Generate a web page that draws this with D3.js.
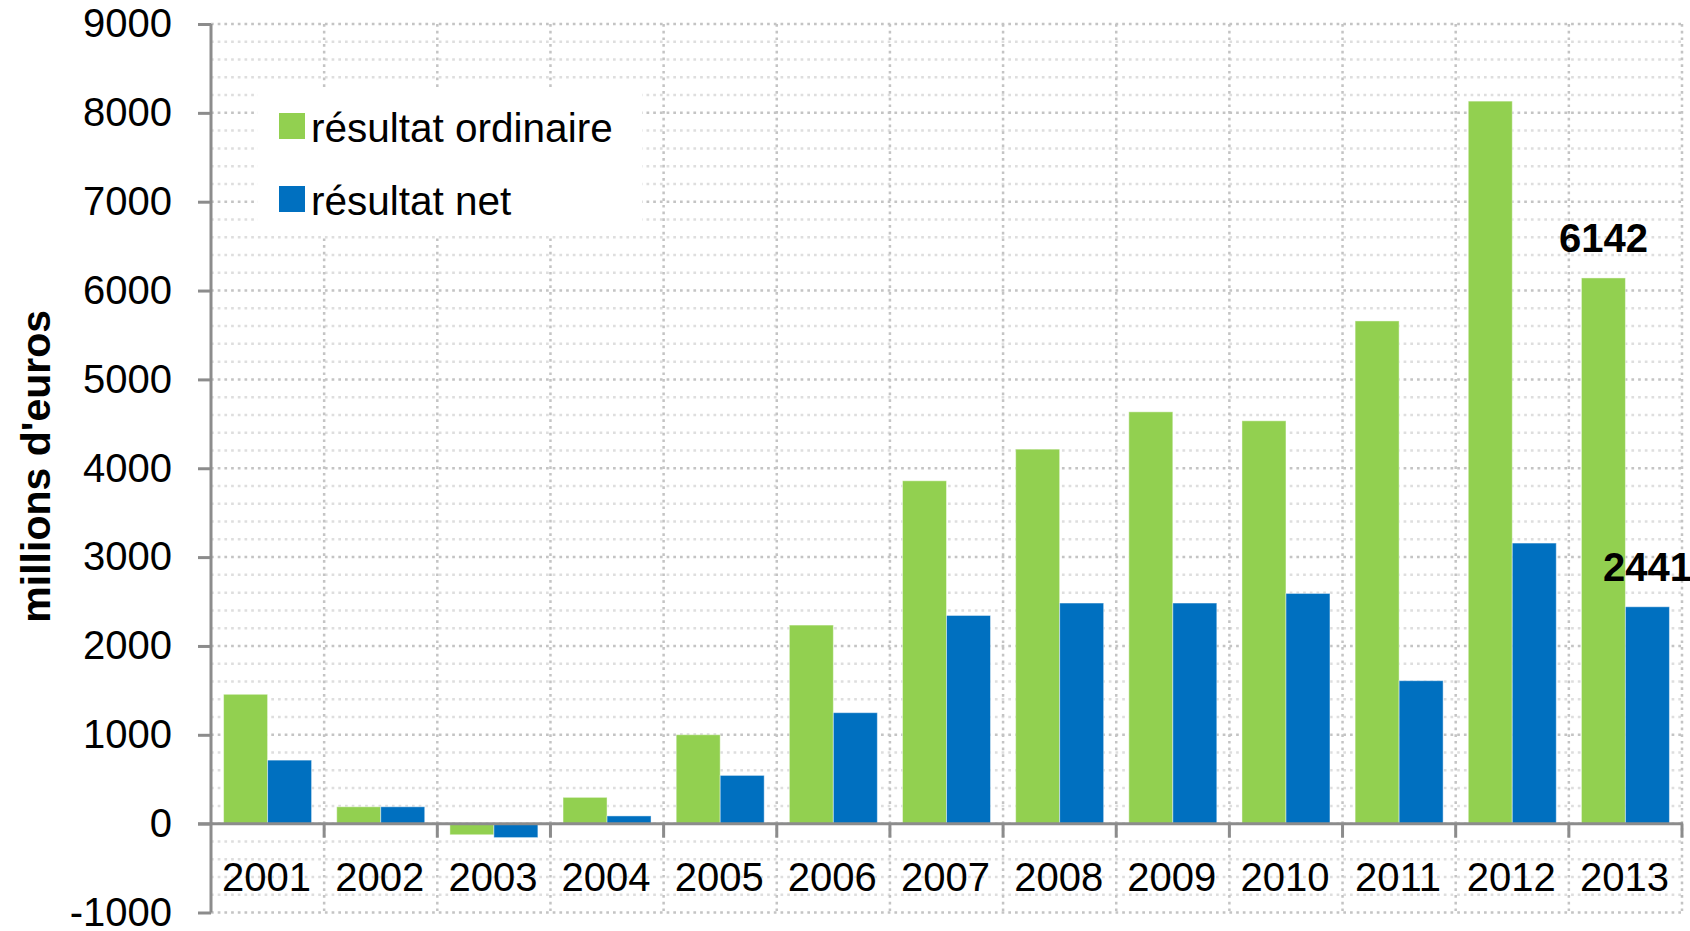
<!DOCTYPE html>
<html>
<head>
<meta charset="utf-8">
<script src="https://cdn.jsdelivr.net/npm/d3@7"></script>
<style>
  body { margin: 0; background: #fff; }
  text { font-family: "Liberation Sans", Arial, sans-serif; }
</style>
</head>
<body>
<script>
        var w = 1690;
        var h = 931;

        var years = ["2001", "2002", "2003", "2004", "2005", "2006", "2007",
                     "2008", "2009", "2010", "2011", "2012", "2013"];
        var ordinaire = [1456, 190, -125, 296, 1001, 2235, 3859, 4215, 4635, 4534, 5658, 8132, 6142];
        var net = [715, 190, -157, 87, 543, 1249, 2343, 2483, 2483, 2591, 1609, 3158, 2441];
        var yTicks = [-1000, 0, 1000, 2000, 3000, 4000, 5000, 6000, 7000, 8000, 9000];
        var seriesNames = ["résultat ordinaire", "résultat net"];
        var seriesColors = ["#92d050", "#0070c0"];

        // plot box (note: "top" is a reserved window global, so prefixed names)
        var plotLeft = 211, plotRight = 1682, plotTop = 24, plotBottom = 912.5;

        var xScale = d3.scaleBand()
                       .domain(years)
                       .range([plotLeft, plotRight]);

        var yScale = d3.scaleLinear()
                       .domain([-1000, 9000])
                       .range([plotBottom, plotTop]);

        var barW = 44;

        var svg = d3.select("body")
                    .append("svg")
                    .attr("width", w)
                    .attr("height", h);

        // minor + major horizontal grid (dotted)
        svg.append("g")
           .selectAll("line")
           .data(d3.range(-1000, 9001, 200))
           .enter()
           .append("line")
           .attr("x1", plotLeft)
           .attr("x2", plotRight)
           .attr("y1", function(d) { return yScale(d); })
           .attr("y2", function(d) { return yScale(d); })
           .attr("stroke", function(d) { return d % 1000 == 0 ? "#c4c4c4" : "#dedede"; })
           .attr("stroke-width", 2.5)
           .attr("stroke-dasharray", "2.7,4");

        // vertical grid at category boundaries
        svg.append("g")
           .selectAll("line")
           .data(years)
           .enter()
           .append("line")
           .attr("x1", function(d) { return xScale(d) + xScale.bandwidth(); })
           .attr("x2", function(d) { return xScale(d) + xScale.bandwidth(); })
           .attr("y1", plotTop)
           .attr("y2", plotBottom)
           .attr("stroke", "#c4c4c4")
           .attr("stroke-width", 2.5)
           .attr("stroke-dasharray", "2.7,4");

        // legend background hides the grid
        svg.append("rect")
           .attr("x", 258)
           .attr("y", 87)
           .attr("width", 384)
           .attr("height", 148)
           .attr("fill", "#fff");

        // bars
        [ordinaire, net].forEach(function(values, s) {
            svg.append("g")
               .selectAll("rect")
               .data(values)
               .enter()
               .append("rect")
               .attr("x", function(d, i) { return xScale(years[i]) + xScale.bandwidth() / 2 - barW + s * barW; })
               .attr("y", function(d) { return yScale(Math.max(0, d)); })
               .attr("width", barW)
               .attr("height", function(d) { return Math.abs(yScale(d) - yScale(0)); })
               .attr("fill", seriesColors[s])
               .attr("stroke", "rgba(255,255,255,0.45)")
               .attr("stroke-width", 1);
        });

        // y axis (plain hyphen for negatives, like the original)
        var yAxis = d3.axisLeft()
                      .scale(yScale)
                      .tickValues(yTicks)
                      .tickFormat(function(d) { return String(d); })
                      .tickSize(13)
                      .tickPadding(26);

        var gy = svg.append("g")
           .attr("transform", "translate(" + plotLeft + ",0)")
           .call(yAxis);
        gy.select(".domain").attr("stroke", "#8c8c8c").attr("stroke-width", 3)
          .attr("d", "M0," + plotTop + "V" + plotBottom);
        gy.selectAll(".tick line").attr("stroke", "#8c8c8c").attr("stroke-width", 3);
        gy.selectAll(".tick text")
          .attr("font-size", "40px")
          .attr("fill", "#000")
          .attr("font-family", "Liberation Sans, Arial, sans-serif");

        // x axis on zero line
        var zeroY = yScale(0);
        svg.append("line")
           .attr("x1", plotLeft - 13)
           .attr("x2", plotRight + 1)
           .attr("y1", zeroY)
           .attr("y2", zeroY)
           .attr("stroke", "#8c8c8c")
           .attr("stroke-width", 3);

        svg.append("g")
           .selectAll("line")
           .data(years)
           .enter()
           .append("line")
           .attr("x1", function(d) { return xScale(d) + xScale.bandwidth(); })
           .attr("x2", function(d) { return xScale(d) + xScale.bandwidth(); })
           .attr("y1", zeroY)
           .attr("y2", zeroY + 14)
           .attr("stroke", "#8c8c8c")
           .attr("stroke-width", 3);

        svg.append("g")
           .selectAll("text")
           .data(years)
           .enter()
           .append("text")
           .attr("x", function(d) { return xScale(d) + xScale.bandwidth() / 2 - 1; })
           .attr("y", 891)
           .attr("text-anchor", "middle")
           .attr("font-size", "40px")
           .attr("fill", "#000")
           .text(function(d) { return d; });

        // data labels for 2013
        var last = years.length - 1;
        [ordinaire, net].forEach(function(values, s) {
            svg.append("text")
               .attr("x", xScale(years[last]) + xScale.bandwidth() / 2 - barW / 2 + s * barW)
               .attr("y", yScale(values[last]) - 26)
               .attr("text-anchor", "middle")
               .attr("font-size", "40px")
               .attr("font-weight", "bold")
               .attr("fill", "#000")
               .text(values[last]);
        });

        // legend
        var legend = svg.selectAll(".legend")
           .data(seriesNames)
           .enter()
           .append("g")
           .attr("class", "legend")
           .attr("transform", function(d, i) { return "translate(279," + (113 + i * 73) + ")"; });

        legend.append("rect")
              .attr("width", 26)
              .attr("height", 26)
              .attr("fill", function(d, i) { return seriesColors[i]; });

        legend.append("text")
              .attr("x", 32)
              .attr("y", 29)
              .attr("font-size", "40.5px")
              .attr("fill", "#000")
              .text(function(d) { return d; });

        // y axis title
        svg.append("text")
           .attr("text-anchor", "middle")
           .attr("transform", "rotate(-90)")
           .attr("x", -(plotTop + plotBottom) / 2 + 2)
           .attr("y", 50)
           .attr("font-size", "41px")
           .attr("font-weight", "bold")
           .attr("fill", "#000")
           .text("millions d'euros");
</script>
</body>
</html>
